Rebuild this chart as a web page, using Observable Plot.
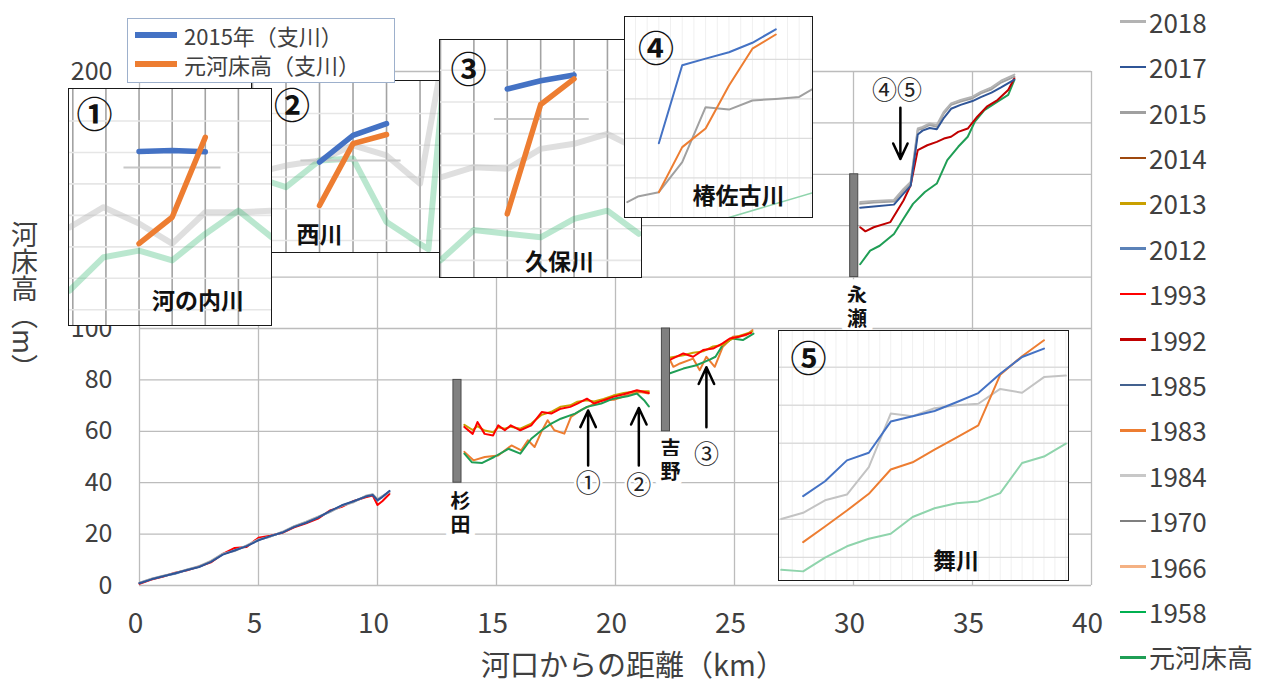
<!DOCTYPE html>
<html><head><meta charset="utf-8">
<script src="https://cdn.jsdelivr.net/npm/d3@7"></script>
<script src="https://cdn.jsdelivr.net/npm/@observablehq/plot@0.6"></script>
<style>
html,body{margin:0;padding:0;background:#fff;}
#wrap{position:relative;width:1265px;height:684px;overflow:hidden;font-family:"Noto Sans CJK JP","Noto Sans",sans-serif;color:#404040;}
.inset{position:absolute;background:#fff;outline:1.5px solid #1a1a1a;overflow:hidden;}
.inset svg{display:block;}
.abs{position:absolute;white-space:nowrap;}
</style></head><body><div id="wrap"></div>
<script>
const FONT = '"Noto Sans CJK JP","Noto Sans",sans-serif';

// ---------- legend / series ----------
const years = ["2018","2017","2015","2014","2013","2012","1993","1992","1985","1983","1984","1970","1966","1958","元河床高"];
const yearColors = ["#b3b3b3","#2f5597","#a0a0a0","#9e480e","#c9a000","#5b82b8","#ff0000","#c00000","#43618f","#ed7d31","#c8c8c8","#7f7f7f","#f4b183","#00b050","#1f9e55"];
const subLegend = ["2015年（支川）","元河床高（支川）"];
const subColors = ["#4472c4","#ed7d31"];

// ---------- main axes ----------
const xTicks = [0,5,10,15,20,25,30,35,40];
const yTicks = [0,20,40,60,80,100,120,140,160,180,200];
const yTickLabels = [0,20,40,60,80,100,200];   // 120–180 lie under inset ①

// ---------- main profile: segment A (河口〜10.5km) ----------
const kmA   = [0,0.5,1,1.5,2,2.5,3,3.5,4,4.5,5,5.5,6,6.5,7,7.5,8,8.5,9,9.5,9.8,10,10.2,10.5];
const a1993 = [0.7,2.3,3.5,5.0,5.9,7.4,9.0,12.3,14.6,15.0,18.6,19.4,20.5,22.6,24.2,26.0,29.2,30.6,32.9,34.3,35.0,31.3,32.8,35.6];
const a2012 = [1.0,2.5,3.7,4.6,6.1,7.3,9.4,12.2,13.7,15.4,17.8,19.1,20.7,23.0,24.6,26.6,28.7,31.1,32.7,34.7,35.4,33.0,34.6,36.6];
const a2018 = [1.1,2.6,3.8,4.9,6.2,7.5,9.6,12.4,13.4,15.6,17.9,19.0,20.9,23.1,24.8,26.8,28.6,31.0,32.4,34.9,35.5,33.6,34.8,36.3];
const a2017 = [0.9,2.4,3.6,4.8,6.0,7.2,9.2,12.0,13.6,15.3,17.6,19.2,20.6,22.8,24.4,26.4,28.9,31.2,32.8,34.6,35.2,33.2,34.4,36.8];

// ---------- segment B (杉田〜) ----------
const b1993 = [[13.65,61.7],[14.0,59],[14.2,63.6],[14.5,59],[14.86,58.4],[15.07,62.3],[15.35,60.4],[15.6,62.3],[16.0,60.4],[16.46,62.3],[16.9,67.5],[17.3,66.9],[17.7,68.8],[18.1,69.5],[18.4,70.8],[18.8,72.7],[19.1,70.8],[19.5,72.1],[19.9,73.4],[20.35,74.4],[20.9,76],[21.4,74.9]];
const b2013 = [[13.65,62.5],[14.0,60.5],[14.2,62.0],[14.5,60.3],[14.86,59.6],[15.07,61.6],[15.35,61.0],[15.6,61.8],[16.0,61.0],[16.46,63.0],[16.9,66.4],[17.3,67.6],[17.7,69.6],[18.1,70.1],[18.4,71.5],[18.8,72.1],[19.1,71.6],[19.5,72.6],[19.9,73.9],[20.35,74.9],[20.9,75.6],[21.4,75.6]];
const b1983 = [[13.65,52.0],[14.03,48.7],[14.51,50.0],[15.07,50.6],[15.63,54.5],[16.04,52.6],[16.32,56.5],[16.6,53.9],[16.88,59.7],[17.15,64.3],[17.43,60.4],[17.85,59.1],[18.13,65.6],[18.54,68.2],[18.96,70.1],[19.38,72.1],[19.93,72.3],[20.49,74.0],[21.04,75.3],[21.39,74.7]];
const bGen  = [[13.65,51.3],[13.96,48],[14.4,47.7],[14.9,50],[15.5,53.2],[16.0,51.3],[16.46,57.1],[16.9,60.4],[17.3,63],[17.7,64.9],[18.3,66.9],[18.8,69.5],[19.4,70.8],[19.9,72.7],[20.5,73.6],[20.9,74.7],[21.2,72.1],[21.4,69.7]];

// ---------- segment C (吉野〜) ----------
const c1993 = [[22.26,87.7],[22.85,90.3],[23.26,89],[23.68,91.6],[24.1,92.2],[24.5,94.2],[24.8,96.1],[25.2,96.8],[25.7,98.3]];
const c2013 = [[22.26,88.6],[22.85,89.6],[23.26,90.6],[23.68,91.1],[24.1,93.0],[24.5,93.6],[24.8,95.5],[25.2,97.1],[25.75,98.8]];
const c1983 = [[22.26,88.3],[22.43,85.1],[22.71,86.4],[23.26,88.3],[23.54,83.8],[23.82,89.0],[24.17,85.1],[24.51,92.9],[24.93,96.8],[25.49,97.4],[25.76,99.4]];
const cGen  = [[22.26,82.5],[22.85,84.4],[23.4,85.7],[23.96,87.9],[24.2,89],[24.5,93.5],[24.9,96.1],[25.35,95.5],[25.8,98]];

// ---------- segment D (永瀬〜) ----------
const d2018 = [[30.28,149.2],[30.85,149.6],[31.7,150.0],[32.1,154.3],[32.4,157.0],[32.7,177.8],[32.9,178.4],[33.2,179.8],[33.5,179.2],[33.8,184.4],[34.1,187.6],[34.5,188.9],[35.0,190.2],[35.35,192.1],[35.8,193.8],[36.2,196.4],[36.76,198.8]];
const d2015 = [[30.28,148.5],[30.85,149],[31.7,149.4],[32.1,153.7],[32.4,156.4],[32.7,177.2],[32.9,177.8],[33.2,179.2],[33.5,178.5],[33.8,183.7],[34.1,187],[34.5,188.3],[35.0,189.6],[35.35,191.5],[35.8,193.1],[36.2,195.7],[36.76,198]];
const d2017 = [[30.28,147],[30.85,147.5],[31.7,148.2],[32.1,152.5],[32.4,155.5],[32.7,175.5],[32.9,177],[33.2,178],[33.5,177.5],[33.8,182],[34.1,185.5],[34.5,187],[35.0,188.5],[35.35,190],[35.8,191.8],[36.2,193.8],[36.76,196.8]];
const d1992 = [[30.28,139.4],[30.5,137.8],[30.85,139.4],[31.55,141.4],[32.1,149.8],[32.4,155.7],[32.7,169.4],[33.1,171.3],[33.5,172.6],[33.8,173.9],[34.1,174.6],[34.4,176.5],[34.8,177.8],[35.2,182.4],[35.6,186.3],[36.05,188.9],[36.5,192.8],[36.76,197.4]];
const dGen  = [[30.28,125],[30.7,130.3],[31.1,132.2],[31.7,136.8],[32.1,142.7],[32.5,148.5],[33.0,153.1],[33.5,156.4],[33.94,165.5],[34.4,170.7],[34.8,174.6],[35.1,180.5],[35.5,185],[36.05,188.3],[36.5,190.9],[36.76,196.7]];

// ---------- weirs / annotations ----------
const weirNames = ["杉\n田","吉\n野","永\n瀬"];
const weirKm    = [13.36, 22.12, 30.03];
const weirLo    = [40, 60, 120];
const weirHi    = [80, 100, 160];
const weirLabelKm = [13.49, 22.31, 30.15];
const weirLabelM  = [28.1, 48.9, 108.2];
const markText = ["①","②","③","④⑤"];
const markKm   = [18.85, 20.98, 23.82, 31.83];
const markM    = [39.6, 38.9, 50.6, 192.6];
const arrowKm   = [18.85, 20.98, 23.82, 31.97];
const arrowFrom = [46.7, 46.7, 61.6, 185.9];
const arrowTo   = [68.1, 69.1, 84.9, 166];

// ---------- inset ① 河の内川 ----------
const i1Blue   = [[2,5.53],[3,5.56],[4,5.52]];
const i1Orange = [[2,2.6],[3,3.44],[4,5.98]];
const i1Gray   = [[-0.1,3.12],[0.93,3.76],[2,3.24],[3,2.6],[4,3.6],[5,3.6],[6,3.65]];
const i1Green  = [[-0.1,1.11],[0.93,2.17],[2,2.38],[3,2.07],[4,2.91],[5,3.65],[6,2.81]];
const i1Ref    = [[1.53,5.02],[4.46,5.02]];
// ---------- inset ② 西川 ----------
const i2Blue   = [[2,2.85],[3,3.69],[4,4.06]];
const i2Orange = [[2,1.48],[3,3.43],[4,3.72]];
const i2Gray   = [[0,2.45],[0.39,2.59],[1,2.74],[2,2.9],[3,3.38],[4,3.06],[5,2.17],[5.55,5.4]];
const i2Green  = [[0.39,2.27],[1,2.06],[2,2.9],[3,2.96],[4,0.96],[5,0.27],[5.25,0.1],[5.7,5.4]];
const i2Ref    = [[1.43,2.9],[4.42,2.9]];
// ---------- inset ③ 久保川 ----------
const i3Blue   = [[2,5.95],[3,6.21],[4,6.39]];
const i3Orange = [[2,2.01],[3,5.46],[4,6.27]];
const i3Gray   = [[0,3.16],[1,3.48],[2,3.43],[3,4.06],[4,4.22],[5,4.53],[5.89,4.06],[6.02,3.8]];
const i3Green  = [[0,0.54],[1,1.5],[2,1.38],[3,1.27],[4,1.85],[5,2.11],[5.94,1.38]];
const i3Ref    = [[1.6,5.0],[4.44,5.0]];
// ---------- inset ④ 椿佐古川 ----------
const i4Blue   = [[3,1.88],[5,3.85],[7,4.02],[9,4.18],[11,4.42],[13,4.76]];
const i4Orange = [[3,0.64],[5,1.78],[7,2.25],[9,3.34],[11,4.27],[13,4.63]];
const i4Gray   = [[0.3,0.39],[1.2,0.53],[3,0.64],[5,1.4],[7,2.79],[9,2.73],[11,2.96],[13,3.0],[15,3.05],[16.1,3.24]];
const i4Green  = [[9,0],[16.1,0.62]];
// ---------- inset ⑤ 舞川 ----------
const i5X      = [0,2,4,6,8,10,12,14,16,18,20,22,24,26];
const i5Blue   = [null,2.22,2.61,3.16,3.36,4.18,4.32,4.46,4.69,4.93,5.44,5.88,6.1,null];
const i5Orange = [null,1.01,1.42,1.84,2.28,2.92,3.11,3.44,3.76,4.08,5.41,5.9,6.32,null];
const i5Gray   = [1.62,1.78,2.11,2.26,2.98,4.39,4.32,4.53,4.61,4.65,5.04,4.94,5.35,5.39];
const i5Green  = [0.28,0.24,0.6,0.9,1.1,1.23,1.67,1.9,2.03,2.08,2.3,3.09,3.26,3.6];

// ================= build =================
const wrap = document.getElementById("wrap");
const color = Object.fromEntries(years.map((y,i)=>[y, yearColors[i]]));
const zip = (xs, ys) => xs.map((x,i)=>[x, ys[i]]);

const mainSeries = [
  ["1993", zip(kmA,a1993)], ["2012", zip(kmA,a2012)], ["2018", zip(kmA,a2018)], ["2017", zip(kmA,a2017)],
  ["1983", b1983], ["元河床高", bGen], ["2013", b2013], ["1993", b1993],
  ["1983", c1983], ["元河床高", cGen], ["2013", c2013], ["1993", c1993],
  ["元河床高", dGen], ["1992", d1992], ["2015", d2015], ["2018", d2018], ["2017", d2017]
];
const rows = mainSeries.flatMap(([year, pts], id) => pts.map(([km, m]) => ({id, year, km, m})));
const weirs = weirKm.map((km,i)=>({km, lo: weirLo[i], hi: weirHi[i], name: weirNames[i], lkm: weirLabelKm[i], lm: weirLabelM[i]}));
const marksT = markText.map((t,i)=>({t, km: markKm[i], m: markM[i]}));
const arrows = arrowKm.map((km,i)=>({km, from: arrowFrom[i], to: arrowTo[i]}));

const mainSvg = Plot.plot({
  width: 1265, height: 684,
  marginTop: 71, marginBottom: 99, marginLeft: 139, marginRight: 174,
  x: {domain: [0,40]}, y: {domain: [0,200]},
  style: {fontFamily: FONT, color: "#404040", background: "transparent", overflow: "visible"},
  marks: [
    Plot.ruleX(xTicks, {stroke: "#bcbcbc", strokeWidth: 1.3}),
    Plot.ruleY(yTicks, {stroke: "#bcbcbc", strokeWidth: 1.3}),
    Plot.axisX({ticks: xTicks, tickSize: 0, tickPadding: 28, fontSize: 28, dx: -4, label: null, fill: "#404040"}),
    Plot.axisY({ticks: yTickLabels, tickSize: 0, tickPadding: 27, fontSize: 25, label: null, fill: "#404040"}),
    Plot.line(rows, {x: "km", y: "m", z: "id", stroke: d => color[d.year], strokeWidth: 2, strokeLinejoin: "round"}),
    Plot.rect(weirs, {x1: d => d.km - 0.17, x2: d => d.km + 0.17, y1: "lo", y2: "hi", fill: "#808080", stroke: "#4a4a4a", strokeWidth: 1}),
    Plot.text(weirs, {x: "lkm", y: "lm", text: "name", fontSize: 20, fontWeight: "bold", fill: "#111", lineHeight: 1.16, lineAnchor: "middle", stroke: "white", strokeWidth: 12, paintOrder: "stroke"}),
    Plot.arrow(arrows, {x1: "km", x2: "km", y1: "from", y2: "to", stroke: "#000", strokeWidth: 2.5, headLength: 11, headAngle: 50}),
    Plot.text(marksT, {x: "km", y: "m", text: "t", fontSize: 25, fill: "#222", stroke: "white", strokeWidth: 5, paintOrder: "stroke"})
  ]
});
mainSvg.style.position = "absolute"; mainSvg.style.left = "0px"; mainSvg.style.top = "0px";
wrap.appendChild(mainSvg);

function makeInset(cfg) {
  const marks = [];
  marks.push(Plot.ruleX(cfg.xGrid, {stroke: cfg.xGridColor, strokeWidth: cfg.xGridWidth}));
  marks.push(Plot.ruleY(cfg.yGrid, {stroke: cfg.yGridColor, strokeWidth: cfg.yGridWidth}));
  for (const l of cfg.lines) {
    marks.push(Plot.line(l.data, {x: d => d[0], y: d => d[1], stroke: l.stroke, strokeWidth: l.width,
      strokeOpacity: l.opacity ?? 1, strokeLinejoin: "round", strokeLinecap: l.cap || "round"}));
  }
  marks.push(Plot.text([cfg.num], {text: d => d, frameAnchor: "top-left", dx: cfg.numPos[0], dy: cfg.numPos[1] + 3,
    fontSize: 36, fontWeight: "bold", fill: "#111", textAnchor: "middle", lineAnchor: "middle"}));
  marks.push(Plot.text([cfg.name], {text: d => d, frameAnchor: "top-left", dx: cfg.namePos[0], dy: cfg.namePos[1],
    fontSize: 23, fontWeight: "bold", fill: "#111", textAnchor: "middle", lineAnchor: "middle"}));
  const svg = Plot.plot({
    width: cfg.w, height: cfg.h, margin: 0,
    x: {domain: cfg.xd, axis: null}, y: {domain: cfg.yd, axis: null},
    style: {background: "#fff", fontFamily: FONT},
    marks
  });
  const div = document.createElement("div");
  div.className = "inset";
  div.style.left = cfg.left + "px"; div.style.top = cfg.top + "px";
  div.style.width = cfg.w + "px"; div.style.height = cfg.h + "px";
  div.appendChild(svg);
  wrap.appendChild(div);
}

const fadeGray = {stroke: "#b8b8b8", width: 6, opacity: 0.45};
const fadeGreen = {stroke: "#2fb56e", width: 6, opacity: 0.33};
const refLine = {stroke: "#c8c8c8", width: 2, cap: "butt"};
const thick = (data, stroke) => ({data, stroke, width: 5.5});
const thin = (data, stroke, width = 2) => ({data, stroke, width});

// ② first (behind ①)
makeInset({left: 252, top: 81, w: 193, h: 171, xd: [0, 5.76], yd: [0, 5.39],
  xGrid: [0,1,2,3,4,5], yGrid: [0.38,1.38,2.38,3.38,4.38], xGridColor: "#a3a3a3", xGridWidth: 1.6, yGridColor: "#e6e6e6", yGridWidth: 1.6,
  lines: [{...fadeGray, data: i2Gray}, {...fadeGreen, data: i2Green}, {...refLine, data: i2Ref},
          thick(i2Orange, subColors[1]), thick(i2Blue, subColors[0])],
  num: "②", numPos: [39.5, 23], name: "西川", namePos: [67, 154]});
makeInset({left: 69, top: 89, w: 202, h: 236, xd: [-0.1, 6], yd: [0, 7.5],
  xGrid: [0,1,2,3,4,5], yGrid: [0.5,1.5,2.5,3.5,4.5,5.5,6.5], xGridColor: "#a3a3a3", xGridWidth: 1.6, yGridColor: "#e6e6e6", yGridWidth: 1.6,
  lines: [{...fadeGray, data: i1Gray}, {...fadeGreen, data: i1Green}, {...refLine, data: i1Ref},
          thick(i1Blue, subColors[0]), thick(i1Orange, subColors[1])],
  num: "①", numPos: [25, 24], name: "河の内川", namePos: [128.5, 212]});
makeInset({left: 440, top: 40, w: 201, h: 237, xd: [0, 6.02], yd: [0, 7.48],
  xGrid: [0,1,2,3,4,5], yGrid: [0.54,1.54,2.54,3.54,4.54,5.54,6.54], xGridColor: "#a3a3a3", xGridWidth: 1.6, yGridColor: "#e6e6e6", yGridWidth: 1.6,
  lines: [{...fadeGray, data: i3Gray}, {...fadeGreen, data: i3Green}, {...refLine, data: i3Ref},
          thick(i3Blue, subColors[0]), thick(i3Orange, subColors[1])],
  num: "③", numPos: [28, 27.5], name: "久保川", namePos: [119, 222.5]});
makeInset({left: 625, top: 17, w: 187, h: 200, xd: [0.15, 16.14], yd: [0, 5.06],
  xGrid: d3.range(1, 17), yGrid: [1,2,3,4], xGridColor: "#f0f0f0", xGridWidth: 1, yGridColor: "#dcdcdc", yGridWidth: 1.3,
  lines: [thin(i4Green, "#8fd4ac", 1.6), thin(i4Gray, "#a0a0a0"), thin(i4Orange, "#ed7d31"), thin(i4Blue, "#4472c4")],
  num: "④", numPos: [30.5, 29.5], name: "椿佐古川", namePos: [113, 179]});
makeInset({left: 779, top: 331, w: 289, h: 249, xd: [-0.16, 26.24], yd: [0, 6.55],
  xGrid: d3.range(0, 27), yGrid: [0.61,1.61,2.61,3.61,4.61,5.61], xGridColor: "#f0f0f0", xGridWidth: 1, yGridColor: "#dcdcdc", yGridWidth: 1.3,
  lines: [thin(zip(i5X, i5Green), "#8fd4ac"), thin(zip(i5X, i5Gray), "#c3c3c3"),
          thin(zip(i5X, i5Orange).filter(d => d[1] != null), "#ed7d31"), thin(zip(i5X, i5Blue).filter(d => d[1] != null), "#4472c4")],
  num: "⑤", numPos: [29, 25.7], name: "舞川", namePos: [176.5, 230]});

// ---------- top-left legend box ----------
const lg = document.createElement("div");
lg.className = "abs";
Object.assign(lg.style, {left: "127px", top: "18px", width: "268px", height: "65px", border: "1px solid #9db0cc", background: "#fff", boxSizing: "border-box"});
subLegend.forEach((t, i) => {
  const yc = 16 + i * 29;
  const sw = document.createElement("div"); sw.className = "abs";
  Object.assign(sw.style, {left: "7px", top: (yc - 3) + "px", width: "42px", height: "6px", background: subColors[i]});
  const tx = document.createElement("div"); tx.className = "abs";
  Object.assign(tx.style, {left: "56px", top: (yc - 15) + "px", fontSize: "22px", lineHeight: "30px", color: "#404040"});
  tx.textContent = t;
  lg.appendChild(sw); lg.appendChild(tx);
});
wrap.appendChild(lg);

// ---------- right legend ----------
years.forEach((y, i) => {
  const yc = 21.7 + i * 45.4;
  const sw = document.createElement("div"); sw.className = "abs";
  Object.assign(sw.style, {left: "1120px", top: (yc - 1.25) + "px", width: "26px", height: "2.5px", background: yearColors[i]});
  const tx = document.createElement("div"); tx.className = "abs";
  Object.assign(tx.style, {left: "1149px", top: (yc - 18) + "px", fontSize: "26px", lineHeight: "36px", color: "#404040"});
  tx.textContent = y;
  wrap.appendChild(sw); wrap.appendChild(tx);
});

// ---------- axis titles ----------
const yt = document.createElement("div"); yt.className = "abs";
Object.assign(yt.style, {left: "11px", top: "221px", writingMode: "vertical-rl", fontSize: "27px", lineHeight: "27px", color: "#404040"});
yt.textContent = "河床高（m）";
wrap.appendChild(yt);
const xt = document.createElement("div"); xt.className = "abs";
Object.assign(xt.style, {left: "333px", width: "600px", textAlign: "center", top: "645px", fontSize: "29px", lineHeight: "36px", color: "#404040"});
xt.textContent = "河口からの距離（km）";
wrap.appendChild(xt);
</script></body></html>
